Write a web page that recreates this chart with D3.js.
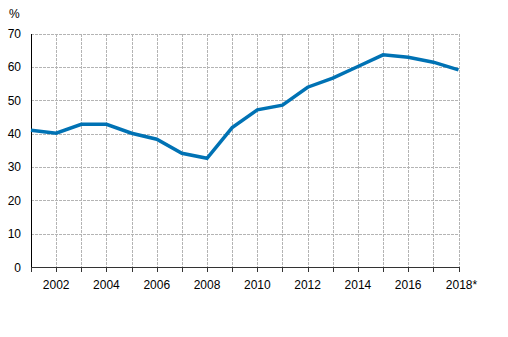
<!DOCTYPE html>
<html>
<head>
<meta charset="utf-8">
<script src="https://cdn.jsdelivr.net/npm/d3@7"></script>
<style>
  html, body { margin: 0; padding: 0; background: #fff; }
  svg { display: block; font-family: "Liberation Sans", Arial, sans-serif; }
</style>
</head>
<body>
<svg id="chart" width="508" height="337"></svg>
<script>
// Annual share, per cent
const years = [2001, 2002, 2003, 2004, 2005, 2006, 2007, 2008, 2009,
               2010, 2011, 2012, 2013, 2014, 2015, 2016, 2017, 2018];
const values = [41.0, 40.1, 42.8, 42.8, 40.1, 38.3, 34.1, 32.6, 41.8,
                47.1, 48.5, 53.9, 56.6, 60.1, 63.6, 62.9, 61.4, 59.1];
const yTicks = [0, 10, 20, 30, 40, 50, 60, 70];
const xLabelYears = [2002, 2004, 2006, 2008, 2010, 2012, 2014, 2016, 2018];
const xLabelText = { 2018: "2018*" };
const unitLabel = "%";

(function () {
  const svg = d3.select("#chart");
  const plotLeft = 31, plotRight = 458.5, plotTop = 33.5, plotBottom = 267;

  const x = d3.scaleLinear().domain([2001, 2018]).range([plotLeft, plotRight]);
  const y = d3.scaleLinear().domain([0, 70]).range([plotBottom, plotTop]);

  const grid = svg.append("g").attr("stroke", "#b4b4b4").attr("stroke-width", 1)
    .attr("stroke-dasharray", "3,1").attr("shape-rendering", "crispEdges");

  // horizontal gridlines
  grid.selectAll("line.h").data(yTicks.filter(d => d > 0)).join("line")
    .attr("x1", plotLeft).attr("x2", plotRight)
    .attr("y1", d => Math.round(y(d)) + 0.5).attr("y2", d => Math.round(y(d)) + 0.5);

  // vertical gridlines, one per year
  grid.selectAll("line.v").data(years.slice(1)).join("line")
    .attr("x1", d => Math.round(x(d)) + 0.5).attr("x2", d => Math.round(x(d)) + 0.5)
    .attr("y1", plotTop).attr("y2", plotBottom);

  // axes
  const axes = svg.append("g").attr("stroke", "#000").attr("stroke-width", 1)
    .attr("shape-rendering", "crispEdges");
  axes.append("line")
    .attr("x1", plotLeft + 0.5).attr("x2", plotLeft + 0.5).attr("y1", plotTop).attr("y2", plotBottom);
  axes.append("line")
    .attr("x1", plotLeft).attr("x2", plotRight + 1)
    .attr("y1", Math.round(plotBottom) + 0.5).attr("y2", Math.round(plotBottom) + 0.5)
    .attr("stroke", "#333");
  axes.selectAll("line.tick").data(years).join("line")
    .attr("stroke", "#333")
    .attr("x1", d => Math.round(x(d)) + 0.5).attr("x2", d => Math.round(x(d)) + 0.5)
    .attr("y1", plotBottom).attr("y2", plotBottom + 5);

  // y tick labels
  svg.append("g").selectAll("text").data(yTicks).join("text")
    .attr("x", 21).attr("y", d => y(d) + 4.5)
    .attr("text-anchor", "end").attr("font-size", 12).attr("fill", "#000")
    .text(d => d);

  // x tick labels
  svg.append("g").selectAll("text").data(xLabelYears).join("text")
    .attr("x", d => x(d) + (xLabelText[d] ? 3 : 0)).attr("y", 289)
    .attr("text-anchor", "middle").attr("font-size", 12).attr("fill", "#000")
    .text(d => xLabelText[d] || d);

  // unit label
  svg.append("text").attr("x", 9).attr("y", 18).attr("font-size", 12).attr("fill", "#000")
    .text(unitLabel);

  // series line
  const line = d3.line().x((d, i) => x(years[i])).y(d => y(d));
  svg.append("path").datum(values)
    .attr("d", line)
    .attr("fill", "none").attr("stroke", "#0072b4").attr("stroke-width", 3.5)
    .attr("stroke-linejoin", "miter");
})();
</script>
</body>
</html>
